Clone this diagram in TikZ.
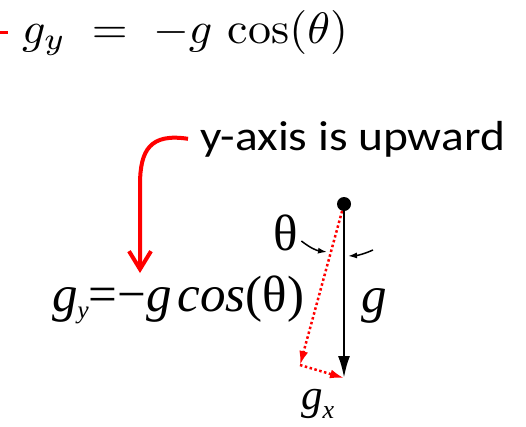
\documentclass[tikz,border=0pt]{standalone}
\usepackage{fontspec}
\usepackage{graphicx}
\usetikzlibrary{positioning, arrows.meta}
\newfontfamily\tnrfont{Liberation Serif}
\newfontfamily\calfont{Carlito}

\tikzset{
  bigmath/.style={inner sep=0},
  serifit/.style={inner sep=0, font=\fontsize{51}{51}\selectfont\tnrfont\itshape},
  serifup/.style={inner sep=0, font=\fontsize{51}{51}\selectfont\tnrfont},
  labelsans/.style={inner sep=0, font=\fontsize{42}{42}\selectfont\calfont},
  dotline/.style={red, line width=2.5pt, dash pattern=on 2.5pt off 2.5pt, -{Latex[length=14pt,width=9pt]}},
  pointer/.style={line width=1.5pt, -{Latex[length=9pt,width=6pt]}},
}

\begin{document}
\begin{tikzpicture}[x=1pt,y=-1pt]
\useasboundingbox (0,0) rectangle (526,426);

% Formula arriba
\draw[red, line width=3pt] (0,32) -- (8,32);
\node[bigmath, anchor=base west] (fytop) at (22,43) {\scalebox{4.6}[4.4]{$g_y \;=\; -g\,\cos(\theta)$}};

% Etiqueta del eje
\node[labelsans, anchor=base west] (axis) at (200,150) {\scalebox{1.13}[1]{y-axis is upward}};

% Formula abajo
\node[serifit, anchor=base west] (fy) at (52,311)
  {g\raisebox{-7pt}{\fontsize{25}{25}\selectfont y}{\upshape =−}g\hspace{6pt}cos{\upshape (θ)}};

% Flecha roja curva
\coordinate (fyin) at (140,273);
\draw[red, line width=4pt, -{Straight Barb[length=18pt,width=22pt]}]
  ([xshift=-12pt]axis.west) .. controls (150,133) and (140,150) .. (140,185) -- (fyin);

% Pendulo
\node[circle, fill, inner sep=0, minimum size=14pt] (bob) at (344,204) {};
\coordinate (gend) at (344,378);
\coordinate (gxstart) at (300,365);
\draw[dotline] (bob) -- (gxstart);
\draw[dotline] (gxstart) -- (gend);
\draw[line width=2.5pt, -{Latex[length=22pt,width=12pt]}] (bob.center) -- (gend);

% Angulo
\node[serifup, anchor=base] (th) at (286,250) {θ};
\coordinate (thend) at (327,252);
\draw[pointer] ([xshift=3pt,yshift=9pt]th.base east) to[bend right=15] (thend);
\coordinate (rtail) at (373,250);
\coordinate (gnear) at (348,256);
\draw[pointer] (rtail) to[bend left=10] (gnear);

% Etiquetas g
\node[serifit, anchor=base west] (glab) at (361,312) {g};
\node[serifit, font=\fontsize{43}{43}\selectfont\tnrfont\itshape, anchor=base west] (gx) at (301,409)
  {g\raisebox{-9pt}{\fontsize{26}{26}\selectfont x}};
\end{tikzpicture}
\end{document}
